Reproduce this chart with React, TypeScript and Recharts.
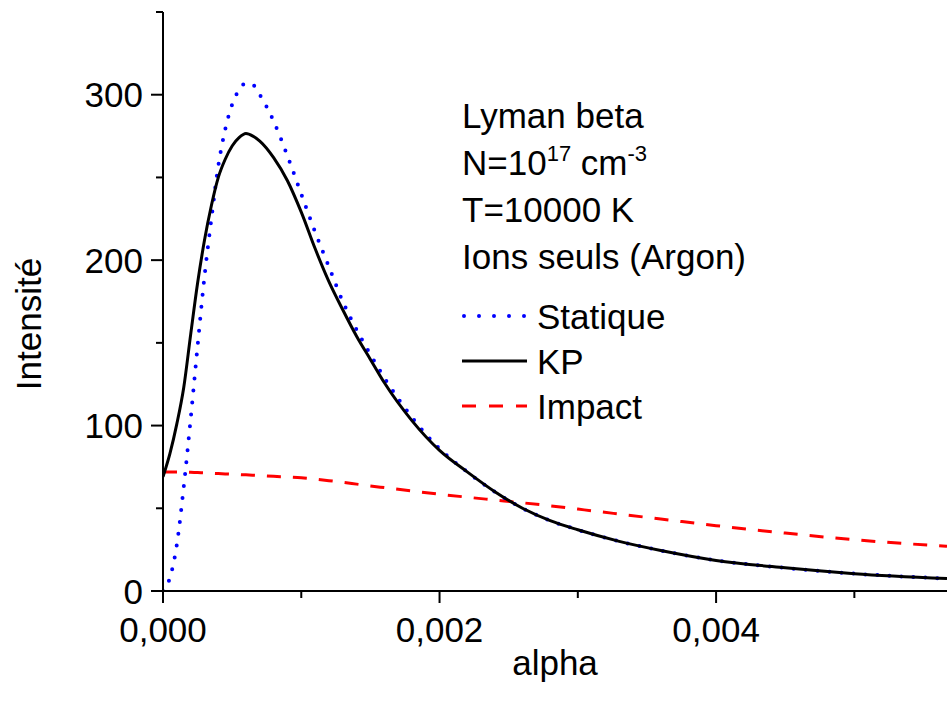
import { LineChart, Line, XAxis, YAxis, Legend, Label } from 'recharts';

const alpha = [
  0, 0.00005, 0.0001, 0.00015, 0.0002, 0.00025, 0.0003, 0.00035, 0.0004, 0.00045,
  0.0005, 0.00055, 0.0006, 0.00065, 0.0007, 0.0008, 0.0009, 0.001, 0.0011, 0.0012,
  0.0013, 0.0014, 0.0015, 0.0016, 0.0018, 0.002, 0.0022, 0.0024, 0.0026, 0.0028,
  0.003, 0.0033, 0.0036, 0.004, 0.0045, 0.005, 0.00567,
];

const statique = [
  0, 8, 28, 63, 104, 148, 190, 225, 257, 279,
  294, 303, 307, 306, 300, 284, 263, 240, 217, 196,
  175, 158, 143, 129, 105, 86, 72, 60, 50, 42.5,
  37, 30, 24.5, 18.5, 14, 10.5, 7.5,
];

const kp = [
  69, 83, 101, 123, 155, 186, 212, 233, 250, 261,
  269, 274, 276.5, 275, 272, 262, 248, 229, 207, 187,
  170, 154, 140, 126, 103, 85, 72, 60, 50, 42.5,
  37, 30, 24.5, 18.5, 14, 10.5, 7.5,
];

const impact = [
  72, 72, 72, 72, 71.8, 71.6, 71.4, 71.2, 71, 70.8,
  70.6, 70.4, 70.2, 70, 69.8, 69.3, 68.9, 68.4, 67.6, 66.7,
  65.7, 64.6, 63.5, 62.5, 60.5, 58.5, 56.7, 55, 53.3, 51.5,
  49.5, 46.5, 43.5, 39.5, 35, 31, 27,
];

const xTicks = [0, 0.001, 0.002, 0.003, 0.004, 0.005];
const yTicks = [0, 50, 100, 150, 200, 250, 300, 350];

const seriesNames = ['Statique', 'KP', 'Impact'];
const infoLines = ['Lyman beta', 'N=10', 'T=10000 K', 'Ions seuls (Argon)'];

const data = alpha.map((a, i) => ({ alpha: a, statique: statique[i], kp: kp[i], impact: impact[i] }));

const FONT = '"Liberation Sans", Arial, sans-serif';

const fmtX = (v: number) => v.toFixed(3).replace('.', ',');

const XTick = (props: any) => {
  const { x, y, payload, index } = props;
  const major = index % 2 === 0;
  return (
    <g>
      <line x1={x} y1={y} x2={x} y2={y + (major ? 12 : 7)} stroke="#000" strokeWidth={2} />
      {major && (
        <text x={x} y={y + 51} textAnchor="middle" fontSize={35} fontFamily={FONT} fill="#000">
          {fmtX(payload.value)}
        </text>
      )}
    </g>
  );
};

const YTick = (props: any) => {
  const { x, y, payload, index } = props;
  const major = index % 2 === 0;
  return (
    <g>
      <line x1={x - (major ? 12 : 7)} y1={y} x2={x} y2={y} stroke="#000" strokeWidth={2} />
      {major && (
        <text x={x - 20} y={y + 12.5} textAnchor="end" fontSize={35} fontFamily={FONT} fill="#000">
          {payload.value}
        </text>
      )}
    </g>
  );
};

const legendStyles = [
  { stroke: '#0000ff', dash: '0 15', cap: 'round', width: 4 },
  { stroke: '#000000', dash: undefined, cap: 'butt', width: 3 },
  { stroke: '#ff0000', dash: '14 13', cap: 'butt', width: 3 },
];

const InfoLegend = () => (
  <svg width={330} height={340} style={{ display: 'block' }}>
    <g fontFamily={FONT} fontSize={35} fill="#000">
      <text x={7} y={38}>{infoLines[0]}</text>
      <text x={7} y={85}>
        {infoLines[1]}
        <tspan dy={-14} fontSize={22}>17</tspan>
        <tspan dy={14} fontSize={35}> cm</tspan>
        <tspan dy={-14} fontSize={22}>-3</tspan>
      </text>
      <text x={7} y={132}>{infoLines[2]}</text>
      <text x={7} y={179}>{infoLines[3]}</text>
      {seriesNames.map((name, i) => {
        const cy = 226 + i * 45;
        const s = legendStyles[i];
        return (
          <g key={name}>
            <line
              x1={s.cap === 'round' ? 9 : 7}
              y1={cy}
              x2={72}
              y2={cy}
              stroke={s.stroke}
              strokeWidth={s.width}
              strokeDasharray={s.dash}
              strokeLinecap={s.cap as any}
            />
            <text x={82} y={cy + 12.5}>{name}</text>
          </g>
        );
      })}
    </g>
  </svg>
);

export default function App() {
  return (
    <div style={{ width: 947, height: 706, background: '#fff' }}>
      <style>{'body{margin:0;}'}</style>
      <LineChart width={947} height={706} data={data} margin={{ top: 12, right: 0, bottom: 0, left: 0 }}>
        <XAxis
          dataKey="alpha"
          type="number"
          domain={[0, 0.00567]}
          allowDataOverflow
          ticks={xTicks}
          interval={0}
          height={115}
          tickLine={false}
          tickSize={0}
          tickMargin={0}
          tick={<XTick />}
          axisLine={{ stroke: '#000', strokeWidth: 2 }}
        >
          <Label
            content={() => (
              <text x={555} y={675} textAnchor="middle" fontSize={35} fontFamily={FONT} fill="#000">
                alpha
              </text>
            )}
          />
        </XAxis>
        <YAxis
          type="number"
          domain={[0, 350]}
          allowDataOverflow
          ticks={yTicks}
          interval={0}
          width={163}
          tickLine={false}
          tickSize={0}
          tickMargin={0}
          tick={<YTick />}
          axisLine={{ stroke: '#000', strokeWidth: 2 }}
        >
          <Label
            content={() => (
              <text
                x={41}
                y={324}
                transform="rotate(-90 41 324)"
                textAnchor="middle"
                fontSize={35}
                fontFamily={FONT}
                fill="#000"
              >
                Intensité
              </text>
            )}
          />
        </YAxis>
        <Legend
          layout="vertical"
          align="center"
          verticalAlign="middle"
          wrapperStyle={{ left: 455, top: 90, width: 330, height: 340 }}
          content={() => <InfoLegend />}
        />
        <Line
          type="monotone"
          dataKey="impact"
          stroke="#ff0000"
          strokeWidth={3}
          strokeDasharray="14 12"
          dot={false}
          isAnimationActive={false}
        />
        <Line
          type="monotone"
          dataKey="statique"
          stroke="#0000ff"
          strokeWidth={4}
          strokeDasharray="0 12"
          strokeLinecap="round"
          dot={false}
          isAnimationActive={false}
        />
        <Line
          type="monotone"
          dataKey="kp"
          stroke="#000000"
          strokeWidth={3}
          dot={false}
          isAnimationActive={false}
        />
      </LineChart>
    </div>
  );
}
